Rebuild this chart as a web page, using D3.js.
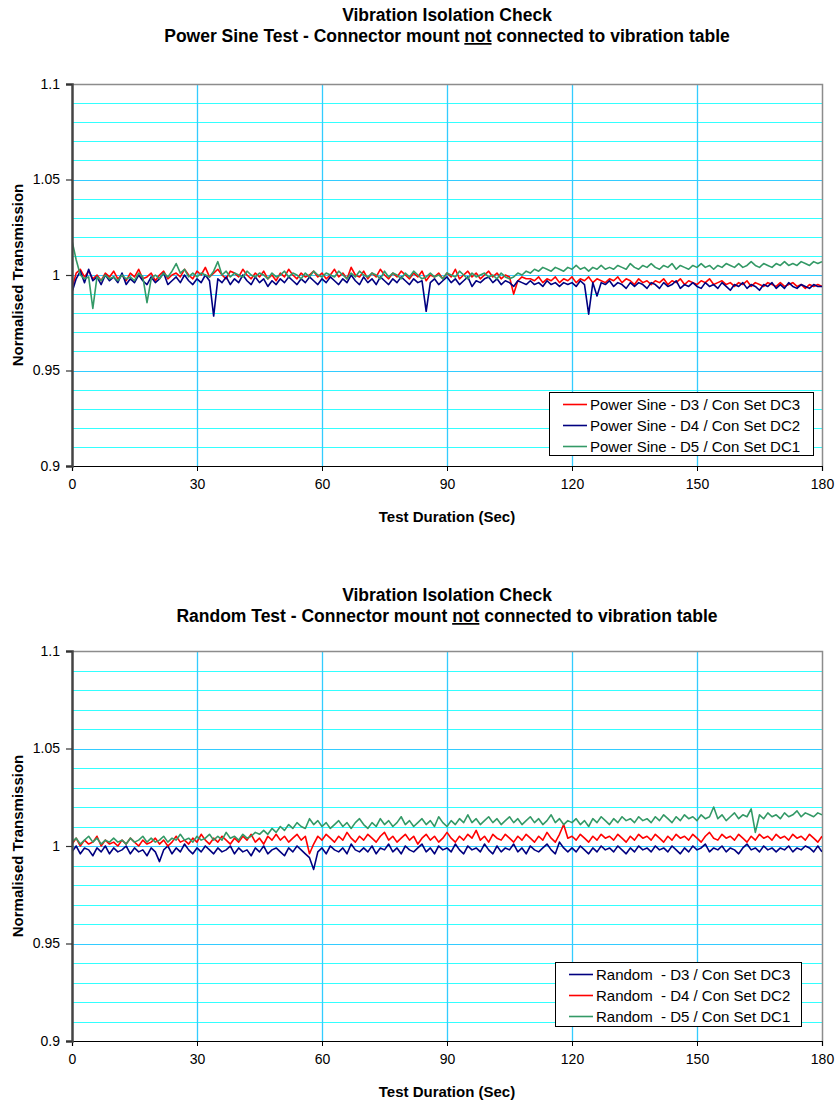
<!DOCTYPE html>
<html>
<head>
<meta charset="utf-8">
<script src="https://cdn.jsdelivr.net/npm/d3@7"></script>
<style>
  html, body { margin: 0; padding: 0; background: #ffffff; }
  svg { display: block; font-family: "Liberation Sans", Arial, sans-serif; }
</style>
</head>
<body>
<svg id="chart" width="836" height="1103"></svg>
<script>
// Sample times (seconds), one reading per second
const seconds = d3.range(0, 181);

const xTicks = [0, 30, 60, 90, 120, 150, 180];
const yTicks = [0.9, 0.95, 1, 1.05, 1.1];
const yTickLabels = ["0.9", "0.95", "1", "1.05", "1.1"];

// ---- Power Sine test ----
const powerSineD3 = [
  0.993, 1.001, 1.003, 0.999, 1.002, 0.998, 1.000, 0.997, 1.001, 0.999,
  1.002, 0.998, 1.000, 0.997, 1.001, 0.999, 1.003, 0.998, 0.999, 1.001,
  0.997, 1.000, 1.002, 0.998, 1.000, 1.001, 0.999, 1.003, 1.000, 0.998,
  1.002, 1.000, 1.004, 0.999, 1.001, 1.003, 1.000, 0.998, 1.002, 1.001,
  0.999, 1.003, 1.000, 0.998, 1.001, 0.999, 1.002, 0.998, 1.000, 0.997,
  1.001, 0.999, 1.003, 1.000, 0.998, 1.001, 0.999, 1.000, 1.002, 0.999,
  1.001, 0.998, 1.000, 1.003, 0.999, 1.001, 0.998, 1.004, 1.000, 0.999,
  1.002, 0.998, 1.001, 0.999, 1.003, 1.000, 0.998, 1.001, 0.999, 1.002,
  1.000, 0.998, 1.001, 0.999, 1.002, 0.997, 1.000, 0.999, 1.001, 0.998,
  1.001, 0.999, 1.003, 0.998, 1.000, 1.002, 0.999, 1.001, 0.998, 1.000,
  1.002, 0.999, 1.001, 0.998, 1.000, 0.999, 0.990, 0.997, 0.999, 0.998,
  0.998, 0.997, 0.999, 0.996, 0.998, 0.997, 0.999, 0.996, 0.998, 0.997,
  0.999, 0.996, 0.998, 0.997, 0.999, 0.996, 0.998, 0.997, 0.996, 0.998,
  0.997, 0.999, 0.996, 0.998, 0.997, 0.995, 0.998, 0.996, 0.997, 0.995,
  0.997, 0.996, 0.998, 0.995, 0.997, 0.996, 0.998, 0.995, 0.997, 0.996,
  0.995, 0.997, 0.996, 0.998, 0.995, 0.996, 0.997, 0.995, 0.996, 0.994,
  0.996, 0.995, 0.997, 0.994, 0.996, 0.995, 0.994, 0.996, 0.995, 0.994,
  0.996, 0.994, 0.995, 0.996, 0.994, 0.995, 0.993, 0.995, 0.994, 0.995,
  0.994
];

const powerSineD4 = [
  0.991, 0.998, 1.002, 0.996, 1.003, 0.997, 0.999, 0.995, 1.000, 0.997,
  0.999, 0.996, 1.001, 0.995, 0.998, 0.996, 1.000, 0.997, 0.995, 0.999,
  0.996, 0.998, 1.001, 0.995, 0.997, 0.999, 0.996, 1.000, 0.997, 0.995,
  0.998, 0.996, 1.000, 0.997, 0.9785, 0.998, 0.996, 0.999, 0.995, 0.998,
  0.996, 1.000, 0.997, 0.995, 0.999, 0.996, 0.998, 0.994, 0.997, 0.995,
  0.998, 0.996, 0.999, 0.997, 0.995, 0.998, 0.996, 0.999, 0.997, 0.995,
  0.998, 0.996, 0.999, 0.997, 0.995, 0.998, 0.996, 1.000, 0.997, 0.995,
  0.999, 0.996, 0.998, 0.995, 0.999, 0.997, 0.995, 0.998, 0.996, 0.999,
  0.997, 0.995, 0.998, 0.996, 0.997, 0.981, 0.996, 0.998, 0.995, 0.997,
  0.999, 0.996, 0.998, 0.995, 0.997, 0.999, 0.994, 0.997, 0.996, 0.998,
  0.999, 0.996, 0.998, 0.995, 0.997, 0.996, 0.994, 0.997, 0.996, 0.995,
  0.997, 0.995, 0.996, 0.994, 0.997, 0.995, 0.996, 0.994, 0.996, 0.995,
  0.996, 0.994, 0.997, 0.995, 0.9795, 0.996, 0.989, 0.996, 0.995, 0.997,
  0.994, 0.996, 0.995, 0.993, 0.996, 0.994, 0.996, 0.995, 0.993, 0.996,
  0.995, 0.993, 0.996, 0.994, 0.995, 0.997, 0.993, 0.995, 0.994, 0.996,
  0.994, 0.993, 0.996, 0.994, 0.995, 0.993, 0.996, 0.994, 0.992, 0.995,
  0.994, 0.996, 0.993, 0.995, 0.994, 0.992, 0.995, 0.994, 0.996, 0.993,
  0.995, 0.993, 0.996, 0.994, 0.993, 0.995, 0.994, 0.993, 0.995, 0.994,
  0.994
];

const powerSineD5 = [
  1.018, 1.008, 1.000, 0.998, 0.999, 0.9825, 0.999, 0.997, 1.000, 0.998,
  0.999, 0.997, 1.000, 0.998, 0.999, 0.997, 1.001, 0.999, 0.9855, 0.998,
  1.000, 0.998, 1.001, 0.999, 1.002, 1.006, 1.001, 1.003, 0.999, 1.001,
  0.999, 1.001, 1.000, 0.999, 1.002, 1.007, 1.000, 1.002, 0.999, 1.001,
  1.000, 0.999, 1.002, 1.000, 0.999, 1.001, 1.000, 0.998, 1.001, 0.999,
  1.000, 1.002, 0.999, 1.001, 1.000, 0.998, 1.001, 0.999, 1.002, 1.000,
  0.999, 1.001, 1.000, 0.999, 1.002, 1.000, 0.998, 1.001, 0.999, 1.002,
  1.000, 0.999, 1.001, 1.000, 0.998, 1.002, 0.999, 1.001, 1.000, 0.998,
  1.001, 0.999, 1.002, 1.000, 0.998, 0.999, 1.001, 0.999, 1.000, 0.998,
  1.001, 1.000, 0.999, 1.002, 1.000, 0.998, 1.001, 0.999, 1.000, 1.001,
  0.999, 1.000, 0.998, 1.001, 0.999, 0.998, 0.999, 1.001, 1.000, 1.002,
  1.001, 1.003, 1.002, 1.004, 1.003, 1.002, 1.004, 1.003, 1.002, 1.004,
  1.003, 1.005, 1.003, 1.004, 1.002, 1.004, 1.003, 1.005, 1.003, 1.004,
  1.003, 1.005, 1.004, 1.003, 1.006, 1.004, 1.003, 1.005, 1.004, 1.006,
  1.004, 1.003, 1.005, 1.004, 1.006, 1.003, 1.005, 1.004, 1.003, 1.005,
  1.004, 1.006, 1.004, 1.005, 1.003, 1.005, 1.004, 1.006, 1.005, 1.004,
  1.006, 1.004, 1.005, 1.007, 1.005, 1.004, 1.006, 1.005, 1.004, 1.006,
  1.005, 1.007, 1.005, 1.006, 1.005, 1.007, 1.006, 1.005, 1.007, 1.006,
  1.007
];

// ---- Random test ----
const randomD3 = [
  0.997, 1.000, 0.996, 0.999, 0.998, 0.995, 0.999, 0.997, 1.000, 0.996,
  0.999, 0.997, 0.998, 1.000, 0.996, 0.999, 0.997, 0.998, 0.995, 0.999,
  0.997, 0.992, 0.998, 1.000, 0.996, 0.999, 0.997, 1.001, 0.998, 0.996,
  0.999, 0.997, 1.000, 0.998, 0.996, 0.999, 0.997, 0.998, 1.000, 0.996,
  0.999, 0.997, 0.998, 0.995, 0.999, 0.997, 1.000, 0.996, 0.998, 0.999,
  0.997, 0.995, 0.999, 0.997, 1.000, 0.998, 0.996, 0.994, 0.988, 0.997,
  0.999, 0.996, 1.000, 0.998, 0.997, 0.999, 0.996, 1.001, 0.998, 0.997,
  0.999, 0.997, 1.000, 0.996, 0.999, 0.998, 1.001, 0.997, 0.999, 0.996,
  1.000, 0.998, 0.997, 0.999, 1.001, 0.997, 0.999, 0.996, 1.000, 0.998,
  0.999, 0.997, 1.001, 0.998, 0.996, 1.000, 0.998, 0.999, 0.997, 1.001,
  0.998, 0.996, 1.000, 0.997, 0.999, 0.998, 1.001, 0.997, 0.999, 0.996,
  1.000, 0.998, 0.997, 0.999, 1.001, 0.998, 0.996, 1.002, 0.999, 0.997,
  0.999, 0.997, 1.000, 0.998, 0.996, 0.999, 0.997, 1.000, 0.998, 0.999,
  0.997, 1.000, 0.998, 0.996, 0.999, 0.997, 1.000, 0.998, 0.999, 0.997,
  1.000, 0.998, 0.999, 0.997, 1.000, 0.998, 0.996, 0.999, 0.997, 1.000,
  0.998, 0.999, 1.001, 0.997, 0.999, 0.998, 1.000, 0.997, 0.999, 0.998,
  0.996, 0.999, 1.001, 0.998, 0.999, 0.997, 1.000, 0.998, 0.999, 0.997,
  0.999, 0.998, 1.000, 0.997, 0.999, 0.998, 1.000, 0.999, 0.997, 1.000,
  0.997
];

const randomD4 = [
  1.001, 1.004, 1.000, 1.003, 1.001, 1.002, 1.005, 1.000, 1.003, 1.001,
  1.002, 1.000, 1.003, 1.001, 1.004, 1.002, 1.000, 1.003, 1.001, 1.002,
  1.004, 1.001, 1.003, 1.000, 1.002, 1.005, 1.002, 1.003, 1.001, 1.004,
  1.002, 1.006, 1.003, 1.001, 1.004, 1.002, 1.005, 1.003, 1.001, 1.004,
  1.002, 1.005, 1.003, 1.006, 1.002, 1.004, 1.001, 1.005, 1.003, 1.006,
  1.003, 1.005, 1.002, 1.004, 1.006, 1.003, 1.005, 0.996, 1.001, 1.005,
  1.003, 1.006, 1.004, 1.002, 1.005, 1.003, 1.007, 1.004, 1.002, 1.005,
  1.003, 1.006, 1.004, 1.002, 1.005, 1.007, 1.003, 1.005, 1.002, 1.004,
  1.006, 1.003, 1.005, 1.001, 1.004, 1.006, 1.003, 1.005, 1.002, 1.004,
  1.007, 1.004, 1.002, 1.005, 1.003, 1.006, 1.004, 1.008, 1.003, 1.005,
  1.002, 1.006, 1.004, 1.003, 1.006, 1.004, 1.002, 1.005, 1.003, 1.006,
  1.004, 1.002, 1.005, 1.003, 1.007, 1.004, 1.002, 1.006, 1.011, 1.004,
  1.005, 1.003, 1.006, 1.004, 1.002, 1.005, 1.003, 1.006, 1.004, 1.005,
  1.003, 1.006, 1.004, 1.002, 1.005, 1.003, 1.006, 1.004, 1.005, 1.003,
  1.006, 1.004, 1.002, 1.005, 1.003, 1.006, 1.004, 1.005, 1.003, 1.006,
  1.004, 1.002, 1.005, 1.007, 1.004, 1.003, 1.006, 1.004, 1.005, 1.003,
  1.006, 1.004, 1.002, 1.005, 1.003, 1.006, 1.004, 1.005, 1.003, 1.006,
  1.004, 1.005, 1.003, 1.006, 1.004, 1.005, 1.003, 1.006, 1.004, 1.002,
  1.005
];

const randomD5 = [
  1.002, 1.004, 1.001, 1.003, 1.005, 1.002, 1.004, 1.001, 1.003, 1.002,
  1.004, 1.002, 1.003, 1.001, 1.004, 1.002, 1.003, 1.005, 1.002, 1.004,
  1.002, 1.003, 1.005, 1.002, 1.004, 1.003, 1.006, 1.003, 1.004, 1.002,
  1.005, 1.003, 1.004, 1.006, 1.003, 1.005, 1.003, 1.007, 1.004, 1.005,
  1.003, 1.006, 1.004, 1.005, 1.007, 1.006, 1.008, 1.006, 1.009, 1.007,
  1.010, 1.008, 1.011, 1.009, 1.012, 1.010, 1.009, 1.014, 1.011, 1.013,
  1.010, 1.012, 1.009, 1.011, 1.013, 1.010, 1.012, 1.009, 1.012, 1.014,
  1.011, 1.009, 1.012, 1.010, 1.014, 1.011, 1.013, 1.010, 1.012, 1.015,
  1.011, 1.013, 1.010, 1.012, 1.014, 1.011, 1.013, 1.010, 1.015, 1.012,
  1.010, 1.013, 1.011, 1.014, 1.012, 1.016, 1.012, 1.014, 1.011, 1.013,
  1.015, 1.012, 1.014, 1.011, 1.013, 1.015, 1.012, 1.014, 1.011, 1.013,
  1.015, 1.012, 1.014, 1.011, 1.013, 1.016, 1.012, 1.014, 1.011, 1.013,
  1.012, 1.014, 1.011, 1.013, 1.010, 1.014, 1.012, 1.015, 1.013, 1.011,
  1.014, 1.012, 1.015, 1.013, 1.014, 1.012, 1.015, 1.013, 1.014, 1.012,
  1.015, 1.013, 1.016, 1.014, 1.012, 1.015, 1.013, 1.016, 1.014, 1.015,
  1.013, 1.016, 1.014, 1.015, 1.020, 1.014, 1.016, 1.013, 1.015, 1.017,
  1.014, 1.016, 1.015, 1.019, 1.007, 1.016, 1.014, 1.017, 1.015, 1.016,
  1.014, 1.017, 1.015, 1.016, 1.018, 1.015, 1.017, 1.016, 1.015, 1.017,
  1.016
];

const powerSineNames = [
  "Power Sine - D3 / Con Set DC3",
  "Power Sine - D4 / Con Set DC2",
  "Power Sine - D5 / Con Set DC1"
];
const randomNames = [
  "Random  - D3 / Con Set DC3",
  "Random  - D4 / Con Set DC2",
  "Random  - D5 / Con Set DC1"
];

const RED = "#ff0000", NAVY = "#000080", SEA = "#339966";
const FONT = "Liberation Sans, Arial, sans-serif";

const svg = d3.select("#chart");

function drawPanel(opt) {
  const { top, bottom, left, right } = opt.plot;
  const x = d3.scaleLinear().domain([0, 180]).range([left, right]);
  const y = d3.scaleLinear().domain([0.9, 1.1]).range([bottom, top]);
  const g = svg.append("g");

  // titles
  const cx = (left + right) / 2;
  g.append("text").attr("x", cx).attr("y", opt.titleY)
    .attr("text-anchor", "middle").attr("font-size", 17.5).attr("font-weight", "bold")
    .text("Vibration Isolation Check");
  const t2 = g.append("text").attr("x", cx).attr("y", opt.titleY + 21)
    .attr("text-anchor", "middle").attr("font-size", 17.5).attr("font-weight", "bold");
  t2.append("tspan").text(opt.subtitle[0]);
  t2.append("tspan").attr("text-decoration", "underline").text("not");
  t2.append("tspan").text(" connected to vibration table");

  // horizontal grid every 0.01
  const hGrid = d3.range(91, 110).map(d => d / 100);
  g.append("g").selectAll("line").data(hGrid).join("line")
    .attr("x1", left).attr("x2", right)
    .attr("y1", d => Math.round(y(d)) + 0.5).attr("y2", d => Math.round(y(d)) + 0.5)
    .attr("stroke", d => (Math.abs(d - 0.95) < 1e-6 || Math.abs(d - 1) < 1e-6 || Math.abs(d - 1.05) < 1e-6) ? "#33ccff" : "#33ffff")
    .attr("stroke-width", 1.2);

  // vertical grid at major ticks
  g.append("g").selectAll("line").data(xTicks.slice(1, -1)).join("line")
    .attr("x1", d => Math.round(x(d)) + 0.5).attr("x2", d => Math.round(x(d)) + 0.5)
    .attr("y1", top).attr("y2", bottom)
    .attr("stroke", "#33ccff").attr("stroke-width", 1.3);

  // plot frame (top and right)
  g.append("path")
    .attr("d", `M${left},${top + 0.5}H${right + 0.5}V${bottom}`)
    .attr("fill", "none").attr("stroke", "#8c8c8c").attr("stroke-width", 1.5);

  // series
  const line = d3.line().x((d, i) => x(seconds[i])).y(d => y(d));
  const plotClip = "clip" + opt.id;
  g.append("clipPath").attr("id", plotClip).append("rect")
    .attr("x", left).attr("y", top).attr("width", right - left).attr("height", bottom - top);
  const sg = g.append("g").attr("clip-path", `url(#${plotClip})`);
  opt.series.forEach(s => {
    sg.append("path").datum(s.values)
      .attr("d", line).attr("fill", "none")
      .attr("stroke", s.color).attr("stroke-width", 1.6)
      .attr("stroke-linejoin", "round");
  });

  // axes
  const xAxis = d3.axisBottom(x).tickValues(xTicks).tickSize(5).tickPadding(8);
  const gx = g.append("g").attr("transform", `translate(0,${bottom})`).call(xAxis);
  gx.select(".domain").attr("stroke", "#000").attr("stroke-width", 1.2);
  gx.selectAll(".tick line").attr("stroke", "#000");
  gx.selectAll("text").attr("font-size", 14).attr("fill", "#000").attr("font-family", FONT);

  const yAxis = d3.axisLeft(y).tickValues(yTicks).tickSize(6).tickPadding(6)
    .tickFormat((d, i) => yTickLabels[i]);
  const gy = g.append("g").attr("transform", `translate(${left},0)`).call(yAxis);
  gy.select(".domain").attr("stroke", "#444").attr("stroke-width", 2.5);
  gy.selectAll(".tick line").attr("stroke", "#333").attr("stroke-width", 1.2);
  gy.selectAll("text").attr("font-size", 14).attr("fill", "#000").attr("font-family", FONT);

  // axis titles
  g.append("text").attr("x", cx).attr("y", bottom + 56)
    .attr("text-anchor", "middle").attr("font-size", 15).attr("font-weight", "bold")
    .text("Test Duration (Sec)");
  g.append("text")
    .attr("transform", `translate(23,${(top + bottom) / 2}) rotate(-90)`)
    .attr("text-anchor", "middle").attr("font-size", 15).attr("font-weight", "bold")
    .text("Normalised Transmission");

  // legend
  const L = opt.legend;
  const lg = g.append("g").attr("transform", `translate(${L.x},${L.y})`);
  lg.append("rect").attr("x", 0.5).attr("y", 0.5).attr("width", L.w).attr("height", L.h)
    .attr("fill", "#fff").attr("stroke", "#000").attr("stroke-width", 1);
  opt.legendOrder.forEach((s, i) => {
    const cyy = 12.5 + i * 21;
    lg.append("line").attr("x1", L.lineX).attr("x2", L.lineX + 24)
      .attr("y1", cyy).attr("y2", cyy).attr("stroke", s.color).attr("stroke-width", 1.6);
    lg.append("text").attr("x", L.lineX + 27).attr("y", cyy + 5)
      .attr("font-size", 15).attr("xml:space", "preserve").style("white-space", "pre")
      .text(s.name);
  });
}

const psSeries = [
  { name: powerSineNames[0], color: RED, values: powerSineD3 },
  { name: powerSineNames[1], color: NAVY, values: powerSineD4 },
  { name: powerSineNames[2], color: SEA, values: powerSineD5 }
];
drawPanel({
  id: "ps",
  plot: { top: 84, bottom: 466, left: 72, right: 822 },
  titleY: 21,
  subtitle: ["Power Sine Test - Connector mount "],
  series: psSeries,
  legendOrder: psSeries,
  legend: { x: 549, y: 392, w: 264, h: 63, lineX: 14 }
});

const rdSeries = [
  { name: randomNames[0], color: NAVY, values: randomD3 },
  { name: randomNames[1], color: RED, values: randomD4 },
  { name: randomNames[2], color: SEA, values: randomD5 }
];
drawPanel({
  id: "rd",
  plot: { top: 651, bottom: 1041, left: 72, right: 822 },
  titleY: 601,
  subtitle: ["Random Test - Connector mount "],
  series: rdSeries,
  legendOrder: rdSeries,
  legend: { x: 555, y: 962, w: 246, h: 64, lineX: 14 }
});
</script>
</body>
</html>
